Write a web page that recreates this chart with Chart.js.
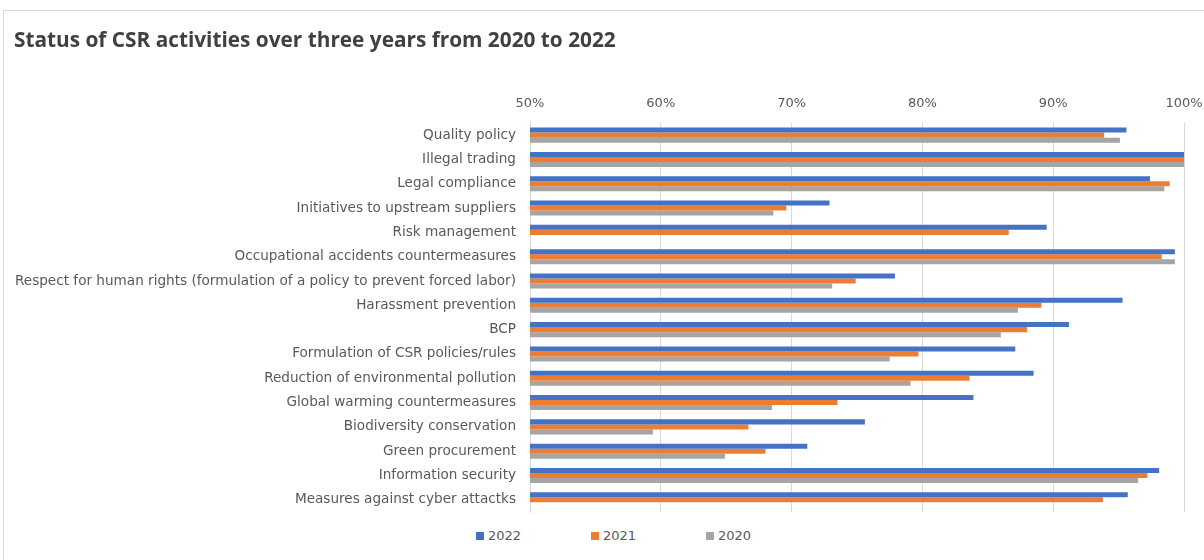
<!DOCTYPE html>
<html>
<head>
<meta charset="utf-8">
<script src="https://cdn.jsdelivr.net/npm/chart.js@4.4.0/dist/chart.umd.min.js"></script>
<style>
  html, body { margin: 0; padding: 0; background: #fff; overflow: hidden; }
  #frame { position: absolute; left: 3px; top: 10px; width: 1300px; height: 700px; border: 1px solid #d9d9d9; }
  #chart { position: absolute; left: 0; top: 0; }
  #legend { position: absolute; left: 476px; top: 528px; display: flex; font: 13px "DejaVu Sans", sans-serif; color: #595959; }
  #legend .item { width: 115px; display: flex; align-items: center; }
  #legend .box { width: 8px; height: 8px; margin-right: 4px; }
</style>
</head>
<body>
<div id="frame"></div>
<canvas id="chart" width="1204" height="525"></canvas>
<div id="legend"></div>
<script>
const categories = [
    "Quality policy",
    "Illegal trading",
    "Legal compliance",
    "Initiatives to upstream suppliers",
    "Risk management",
    "Occupational accidents countermeasures",
    "Respect for human rights (formulation of a policy to prevent forced labor)",
    "Harassment prevention",
    "BCP",
    "Formulation of CSR policies/rules",
    "Reduction of environmental pollution",
    "Global warming countermeasures",
    "Biodiversity conservation",
    "Green procurement",
    "Information security",
    "Measures against cyber attactks"
];

const values2022 = [95.6, 100, 97.4, 72.9, 89.5, 99.3, 77.9, 95.3, 91.2, 87.1, 88.5, 83.9, 75.6, 71.2, 98.1, 95.7];
const values2021 = [93.9, 100, 98.9, 69.6, 86.6, 98.3, 74.9, 89.1, 88.0, 79.7, 83.6, 73.5, 66.7, 68.0, 97.2, 93.8];
const values2020 = [95.1, 100, 98.5, 68.6, null, 99.3, 73.1, 87.3, 86.0, 77.5, 79.1, 68.5, 59.4, 64.9, 96.5, null];

const xTicks = [50, 60, 70, 80, 90, 100];

const seriesNames = ["2022", "2021", "2020"];
const seriesColors = ["#4472C4", "#ED7D31", "#A5A5A5"];
const seriesValues = [values2022, values2021, values2020];

const ctx = document.getElementById("chart").getContext("2d");

new Chart(ctx, {
    type: "bar",
    data: {
        labels: categories,
        datasets: seriesNames.map((name, i) => ({
            label: name,
            data: seriesValues[i],
            backgroundColor: seriesColors[i],
            borderWidth: 0,
            categoryPercentage: 0.62,
            barPercentage: 1.0
        }))
    },
    options: {
        indexAxis: "y",
        responsive: false,
        animation: false,
        layout: { padding: { left: 14, right: 20, top: 0, bottom: 13 } },
        plugins: {
            legend: { display: false },
            tooltip: { enabled: false },
            title: {
                display: true,
                text: "Status of CSR activities over three years from 2020 to 2022",
                align: "start",
                color: "#404040",
                font: { family: "Open Sans", size: 20.8, weight: "bold" },
                padding: { top: 29, bottom: 10 }
            }
        },
        scales: {
            x: {
                position: "top",
                min: 50,
                max: 100,
                afterBuildTicks: scale => { scale.ticks = xTicks.map(v => ({ value: v })); },
                afterFit: scale => {
                    scale.height = 59;
                    scale.paddingLeft = 0;
                    scale.paddingRight = 0;
                },
                ticks: {
                    callback: v => v + "%",
                    color: "#595959",
                    font: { family: "DejaVu Sans", size: 13 },
                    padding: 12,
                    maxRotation: 0
                },
                grid: { color: "#d9d9d9", drawTicks: false },
                border: { display: false }
            },
            y: {
                afterFit: scale => {
                    scale.width = 516;
                    scale.paddingTop = 0;
                    scale.paddingBottom = 0;
                },
                ticks: {
                    color: "#595959",
                    font: { family: "DejaVu Sans", size: 13.6 },
                    padding: 14,
                    autoSkip: false
                },
                grid: { display: false, drawTicks: false },
                border: { display: true, color: "#d9d9d9" }
            }
        }
    }
});

// legend below the plot
const legend = document.getElementById("legend");
seriesNames.forEach((name, i) => {
    const item = document.createElement("div");
    item.className = "item";
    item.innerHTML = '<span class="box" style="background:' + seriesColors[i] + '"></span>' + name;
    legend.appendChild(item);
});
</script>
</body>
</html>
